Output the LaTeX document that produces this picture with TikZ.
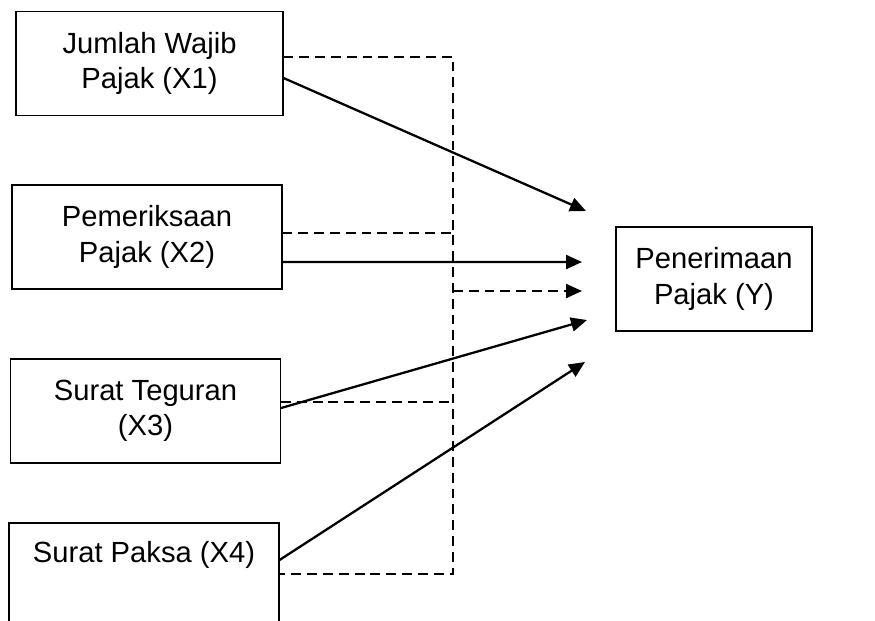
\documentclass[tikz,border=0pt]{standalone}
\usepackage{fontspec}
\setmainfont{Liberation Sans}
\usepackage{tikz}
\usetikzlibrary{arrows.meta}

\begin{document}
\begin{tikzpicture}[every node/.style={font=\fontsize{16.6pt}{20pt}\selectfont}]
	% Styles
	\tikzstyle{var_box} = [draw=black, line width=0.6pt, minimum width=5.4cm, minimum height=2.08cm, align=center, inner sep=2pt]
	\tikzstyle{dash_line} = [line width=1.3pt, dash pattern=on 5.6pt off 3.4pt]
	\tikzstyle{effect_arrow} = [line width=1.3pt, -{Triangle[length=0.32cm,width=0.28cm]}]

	\useasboundingbox (0,0) rectangle (17.5,-12.4);

	% Independent variables (left)
	\node[var_box, minimum width=5.34cm] (x1) at (2.99,-1.27) {Jumlah Wajib\\Pajak (X1)};
	\node[var_box] (x2) at (2.94,-4.74) {Pemeriksaan\\Pajak (X2)};
	\node[var_box] (x3) at (2.91,-8.22) {Surat Teguran\\(X3)};
	\node[var_box] (x4) at (2.88,-11.50) {Surat Paksa (X4)\\\strut};

	% Dependent variable (right)
	\node[var_box, minimum width=3.92cm] (y) at (14.28,-5.58) {Penerimaan\\Pajak (Y)};

	% Joint line positions
	\coordinate (b1) at (9.06,-1.14);
	\coordinate (b2) at (9.06,-4.66);
	\coordinate (b3) at (9.06,-8.04);
	\coordinate (b4) at (9.06,-11.48);
	\coordinate (b5) at (9.06,-5.82);

	% Arrow tips in front of Y
	\coordinate (t1) at (11.72,-4.22);
	\coordinate (t2) at (11.64,-5.24);
	\coordinate (t5) at (11.64,-5.82);
	\coordinate (t3) at (11.74,-6.40);
	\coordinate (t4) at (11.70,-7.24);

	% Partial effects
	\draw[effect_arrow] ([yshift=-0.29cm]x1.east) -- (t1);
	\draw[effect_arrow] ([yshift=-0.50cm]x2.east) -- (t2);
	\draw[effect_arrow] ([yshift=0.06cm]x3.east) -- (t3);
	\draw[effect_arrow] ([yshift=0.30cm]x4.east) -- (t4);

	% Joint effect (dashed)
	\draw[dash_line] (b1 -| x1.east) -- (b1) -- (b4) -- (b4 -| x4.east);
	\draw[dash_line] (b2 -| x2.east) -- (b2);
	\draw[dash_line] (b3 -| x3.east) -- (b3);
	\draw[dash_line, -{Triangle[length=0.32cm,width=0.28cm]}] (b5) -- (t5);

\end{tikzpicture}
\end{document}
